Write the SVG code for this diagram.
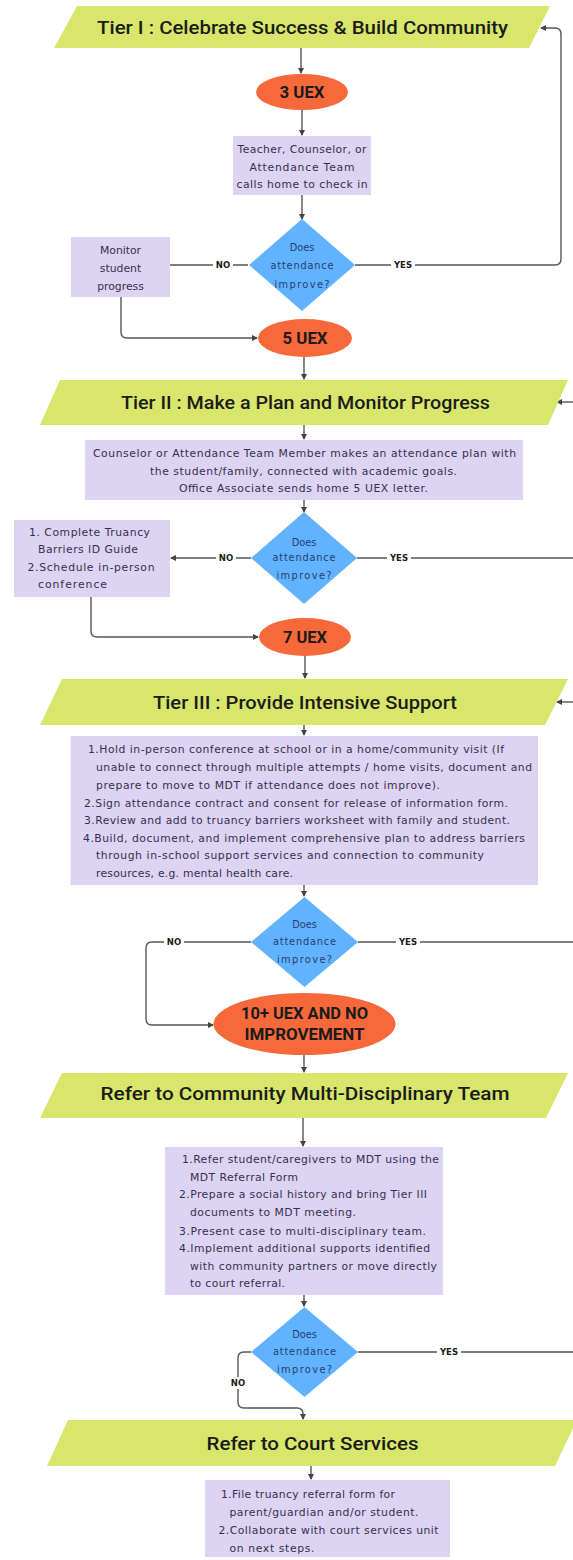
<svg xmlns="http://www.w3.org/2000/svg" width="573" height="1560" viewBox="0 0 573 1560">
<defs>
<marker id="ah" markerWidth="6" markerHeight="6" refX="5" refY="3" orient="auto" markerUnits="userSpaceOnUse">
<path d="M0,0 L6,3 L0,6 Z" fill="#444"/>
</marker>
<style>
.tier{fill:#D8E66B}
.term{fill:#F7693B}
.proc{fill:#DDD3F3}
.dec{fill:#62B3FF}
.h{font-family:Roboto,"Liberation Sans",sans-serif;font-weight:500;font-size:19px;fill:#1b1b1b;text-anchor:middle}
.t{font-family:Roboto,"Liberation Sans",sans-serif;font-weight:700;font-size:16px;fill:#1b1b1b;text-anchor:middle}
.b{font-family:"DejaVu Sans",sans-serif;font-size:10.8px;fill:#35314d}
.bc{font-family:"DejaVu Sans",sans-serif;font-size:10.8px;fill:#35314d;text-anchor:middle}
.d{font-family:"DejaVu Sans",sans-serif;font-size:9.8px;fill:#26406e;text-anchor:middle}
.lbl{font-family:"DejaVu Sans",sans-serif;font-weight:700;font-size:8.5px;fill:#1b1b1b;text-anchor:middle}
.c{fill:none;stroke:#555;stroke-width:1.4}
.lb{fill:#fff}
</style>
</defs>

<g id="connectors">
<path class="c" d="M301,48 V73" marker-end="url(#ah)"/>
<path class="c" d="M302,110 V135" marker-end="url(#ah)"/>
<path class="c" d="M302,195 V219" marker-end="url(#ah)"/>
<path class="c" d="M248,265 H170"/>
<path class="c" d="M121,297 V332 Q121,338 127,338 H257" marker-end="url(#ah)"/>
<path class="c" d="M355,265 H555 Q561,265 561,259 V34 Q561,28 555,28 H541" marker-end="url(#ah)"/>
<path class="c" d="M304,357 V379" marker-end="url(#ah)"/>
<path class="c" d="M573,402 H557" marker-end="url(#ah)"/>
<path class="c" d="M304,425 V439" marker-end="url(#ah)"/>
<path class="c" d="M304,500 V512" marker-end="url(#ah)"/>
<path class="c" d="M251,558 H171" marker-end="url(#ah)"/>
<path class="c" d="M357,558 H573"/>
<path class="c" d="M91,597 V631 Q91,637 97,637 H258" marker-end="url(#ah)"/>
<path class="c" d="M305,656 V678" marker-end="url(#ah)"/>
<path class="c" d="M573,702 H557" marker-end="url(#ah)"/>
<path class="c" d="M304,725 V735" marker-end="url(#ah)"/>
<path class="c" d="M304,885 V896" marker-end="url(#ah)"/>
<path class="c" d="M251,942 H152 Q146,942 146,948 V1019 Q146,1025 152,1025 H213" marker-end="url(#ah)"/>
<path class="c" d="M358,942 H573"/>
<path class="c" d="M304,1055 V1072" marker-end="url(#ah)"/>
<path class="c" d="M303,1118 V1146" marker-end="url(#ah)"/>
<path class="c" d="M304,1295 V1306" marker-end="url(#ah)"/>
<path class="c" d="M251,1352 H244 Q238,1352 238,1358 V1402 Q238,1408 244,1408 H297 Q303,1408 303,1414 V1419" marker-end="url(#ah)"/>
<path class="c" d="M358,1352 H573"/>
<path class="c" d="M311,1466 V1479" marker-end="url(#ah)"/>
<rect class="lb" x="213" y="260" width="20" height="10"/><text class="lbl" x="223" y="268">NO</text>
<rect class="lb" x="391" y="260" width="24" height="10"/><text class="lbl" x="403" y="268">YES</text>
<rect class="lb" x="216" y="553" width="20" height="10"/><text class="lbl" x="226" y="561">NO</text>
<rect class="lb" x="387" y="553" width="24" height="10"/><text class="lbl" x="399" y="561">YES</text>
<rect class="lb" x="164" y="937" width="20" height="10"/><text class="lbl" x="174" y="945">NO</text>
<rect class="lb" x="396" y="937" width="24" height="10"/><text class="lbl" x="408" y="945">YES</text>
<rect class="lb" x="229" y="1377" width="18" height="12"/><text class="lbl" x="238" y="1386">NO</text>
<rect class="lb" x="437" y="1347" width="24" height="10"/><text class="lbl" x="449" y="1355">YES</text>
</g>

<g id="tier1">
<polygon class="tier" points="77,6 550,6 529,48 54,48"/>
<text class="h" x="302.5" y="34" textLength="411" lengthAdjust="spacingAndGlyphs">Tier I : Celebrate Success &amp; Build Community</text>
</g>
<g id="uex3">
<ellipse class="term" cx="302" cy="92" rx="46" ry="18"/>
<text class="t" x="302" y="98" textLength="45" lengthAdjust="spacingAndGlyphs">3 UEX</text>
</g>
<g id="call-home">
<rect class="proc" x="233" y="136" width="138" height="59"/>
<text class="bc" x="302" y="152.5" textLength="129">Teacher, Counselor, or</text>
<text class="bc" x="302" y="170.5" textLength="105">Attendance Team</text>
<text class="bc" x="302" y="187.5" textLength="131">calls home to check in</text>
</g>
<g id="decision1">
<polygon class="dec" points="302,219 355,265 302,311 249,265"/>
<text class="d" x="302" y="251">Does</text>
<text class="d" x="302" y="269" textLength="63">attendance</text>
<text class="d" x="302" y="288" textLength="55">improve?</text>
</g>
<g id="monitor">
<rect class="proc" x="71" y="237" width="99" height="60"/>
<text class="bc" x="120.5" y="253.5">Monitor</text>
<text class="bc" x="120.5" y="271.5">student</text>
<text class="bc" x="120.5" y="289.5">progress</text>
</g>
<g id="uex5">
<ellipse class="term" cx="305" cy="338" rx="47" ry="19"/>
<text class="t" x="305" y="344" textLength="45" lengthAdjust="spacingAndGlyphs">5 UEX</text>
</g>

<g id="tier2">
<polygon class="tier" points="60,380 568,380 548,425 40,425"/>
<text class="h" x="305.5" y="409" textLength="369" lengthAdjust="spacingAndGlyphs">Tier II : Make a Plan and Monitor Progress</text>
</g>
<g id="plan">
<rect class="proc" x="85" y="440" width="438" height="60"/>
<text class="bc" x="304.5" y="456.5" textLength="423">Counselor or Attendance Team Member makes an attendance plan with</text>
<text class="bc" x="303.5" y="474.5" textLength="307">the student/family, connected with academic goals.</text>
<text class="bc" x="303.5" y="491.5" textLength="249">Office Associate sends home 5 UEX letter.</text>
</g>
<g id="decision2">
<polygon class="dec" points="304,512 357,558 304,604 251,558"/>
<text class="d" x="304" y="546">Does</text>
<text class="d" x="304" y="561" textLength="63">attendance</text>
<text class="d" x="304" y="579" textLength="55">improve?</text>
</g>
<g id="barriers">
<rect class="proc" x="14" y="520" width="156" height="77"/>
<text class="b" x="29" y="535.5" textLength="121">1. Complete Truancy</text>
<text class="b" x="38" y="552.5" textLength="100">Barriers ID Guide</text>
<text class="b" x="27.5" y="570.5" textLength="127">2.Schedule in-person</text>
<text class="b" x="38" y="587.5" textLength="69">conference</text>
</g>
<g id="uex7">
<ellipse class="term" cx="305" cy="637" rx="46" ry="19"/>
<text class="t" x="305" y="643" textLength="44" lengthAdjust="spacingAndGlyphs">7 UEX</text>
</g>

<g id="tier3">
<polygon class="tier" points="62,679 568,679 545,725 40,725"/>
<text class="h" x="305" y="709" textLength="304" lengthAdjust="spacingAndGlyphs">Tier III : Provide Intensive Support</text>
</g>
<g id="intensive">
<rect class="proc" x="70.5" y="736" width="467.5" height="149"/>
<text class="b" x="88" y="752.5" textLength="416">1.Hold in-person conference at school or in a home/community visit (If</text>
<text class="b" x="96" y="770.5" textLength="436">unable to connect through multiple attempts / home visits, document and</text>
<text class="b" x="96" y="788.5" textLength="344">prepare to move to MDT if attendance does not improve).</text>
<text class="b" x="84" y="806.5" textLength="424">2.Sign attendance contract and consent for release of information form.</text>
<text class="b" x="84" y="823.5" textLength="426">3.Review and add to truancy barriers worksheet with family and student.</text>
<text class="b" x="83" y="841.5" textLength="442">4.Build, document, and implement comprehensive plan to address barriers</text>
<text class="b" x="96" y="858.5" textLength="388">through in-school support services and connection to community</text>
<text class="b" x="96" y="876.5" textLength="197">resources, e.g. mental health care.</text>
</g>
<g id="decision3">
<polygon class="dec" points="304.5,897 358,942 304.5,987 251,942"/>
<text class="d" x="304.5" y="928">Does</text>
<text class="d" x="304.5" y="945" textLength="63">attendance</text>
<text class="d" x="304.5" y="963" textLength="55">improve?</text>
</g>
<g id="uex10">
<ellipse class="term" cx="304.5" cy="1024" rx="91" ry="31"/>
<text class="t" x="304.5" y="1019" font-size="15" textLength="127" lengthAdjust="spacingAndGlyphs">10+ UEX AND NO</text>
<text class="t" x="304.5" y="1040" font-size="15" textLength="120" lengthAdjust="spacingAndGlyphs">IMPROVEMENT</text>
</g>

<g id="mdt">
<polygon class="tier" points="62,1073 568,1073 546,1118 40,1118"/>
<text class="h" x="305" y="1100" textLength="409" lengthAdjust="spacingAndGlyphs">Refer to Community Multi-Disciplinary Team</text>
</g>
<g id="mdt-steps">
<rect class="proc" x="165" y="1147" width="278" height="148"/>
<text class="b" x="182" y="1162.5" textLength="257">1.Refer student/caregivers to MDT using the</text>
<text class="b" x="190" y="1180.5" textLength="108">MDT Referral Form</text>
<text class="b" x="179" y="1197.5" textLength="248">2.Prepare a social history and bring Tier III</text>
<text class="b" x="190" y="1215.5" textLength="166">documents to MDT meeting.</text>
<text class="b" x="179" y="1234.5" textLength="247">3.Present case to multi-disciplinary team.</text>
<text class="b" x="179" y="1251.5" textLength="251">4.Implement additional supports identified</text>
<text class="b" x="190" y="1269.5" textLength="247">with community partners or move directly</text>
<text class="b" x="190" y="1286.5" textLength="95">to court referral.</text>
</g>
<g id="decision4">
<polygon class="dec" points="304.5,1307 358,1352 304.5,1397 251,1352"/>
<text class="d" x="304.5" y="1338">Does</text>
<text class="d" x="304.5" y="1355" textLength="63">attendance</text>
<text class="d" x="304.5" y="1373" textLength="55">improve?</text>
</g>

<g id="court">
<polygon class="tier" points="68,1420 577,1420 555,1466 47,1466"/>
<text class="h" x="312.5" y="1450" textLength="212" lengthAdjust="spacingAndGlyphs">Refer to Court Services</text>
</g>
<g id="court-steps">
<rect class="proc" x="205" y="1480" width="245" height="77"/>
<text class="b" x="221" y="1497.5" textLength="174">1.File truancy referral form for</text>
<text class="b" x="229.5" y="1515.5" textLength="189">parent/guardian and/or student.</text>
<text class="b" x="218.5" y="1533.5" textLength="220">2.Collaborate with court services unit</text>
<text class="b" x="229.5" y="1551.5" textLength="85">on next steps.</text>
</g>
</svg>
